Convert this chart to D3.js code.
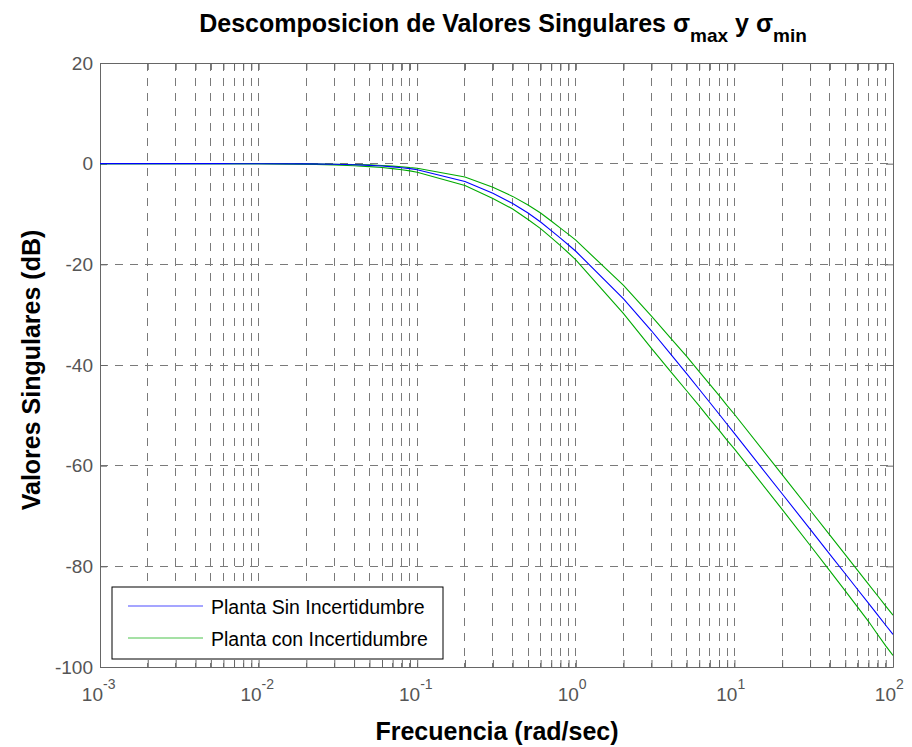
<!DOCTYPE html>
<html>
<head>
<meta charset="utf-8">
<script src="https://cdn.jsdelivr.net/npm/d3@7"></script>
<style>
  html, body { margin: 0; padding: 0; background: #fff; }
  svg { display: block; }
  text { font-family: "Liberation Sans", Arial, sans-serif; }
</style>
</head>
<body>
<svg id="chart" width="912" height="747"></svg>
<script>
// ---------------- data ----------------
const freq = [
  0.001, 0.002, 0.003, 0.004, 0.005, 0.006, 0.007, 0.008, 0.009,
  0.01, 0.02, 0.03, 0.04, 0.05, 0.06, 0.07, 0.08, 0.09,
  0.1, 0.2, 0.3, 0.4, 0.5, 0.6, 0.7, 0.8, 0.9,
  1, 2, 3, 4, 5, 6, 7, 8, 9,
  10, 20, 30, 40, 50, 60, 70, 80, 90,
  100
];
// Planta Sin Incertidumbre (dB)
const nominal = [
  0, 0, 0, 0, 0, 0, -0.01, -0.01, -0.01,
  -0.01, -0.05, -0.12, -0.21, -0.33, -0.47, -0.63, -0.80, -0.99,
  -1.20, -3.55, -5.9, -7.9, -9.8, -11.6, -13.3, -14.8, -16.15,
  -17.40, -26.88, -33.2, -37.97, -41.72, -44.82, -47.45, -49.73, -51.77,
  -53.58, -65.58, -72.61, -77.61, -81.48, -84.65, -87.32, -89.64, -91.70,
  -93.52
];
// Planta con Incertidumbre: upper bound (dB)
const uncertainUpper = [
  0, 0, 0, 0, 0, 0, -0.01, -0.01, -0.01,
  -0.01, -0.05, -0.12, -0.16, -0.23, -0.37, -0.48, -0.60, -0.79,
  -0.90, -2.65, -4.7, -6.5, -8.2, -9.8, -11.4, -12.8, -14.05,
  -15.2, -24.2, -30.3, -34.8, -38.3, -41.3, -43.85, -46.05, -48.07,
  -49.78, -61.78, -68.81, -73.81, -77.68, -80.85, -83.52, -85.84, -87.9,
  -89.72
];
// Planta con Incertidumbre: lower bound (dB)
const uncertainLower = [
  0, 0, 0, 0, 0, 0, -0.01, -0.01, -0.01,
  -0.02, -0.10, -0.27, -0.41, -0.58, -0.77, -0.98, -1.2, -1.44,
  -1.7, -4.35, -6.9, -9.0, -11.1, -12.9, -14.7, -16.3, -17.75,
  -19.1, -29.8, -36.7, -41.47, -45.12, -48.12, -50.75, -52.93, -54.97,
  -56.68, -68.68, -75.81, -80.91, -84.88, -88.15, -90.92, -93.54, -95.8,
  -97.72
];
const yTickValues = [20, 0, -20, -40, -60, -80, -100];
const xDecades = [-3, -2, -1, 0, 1, 2];
const legendLabels = ["Planta Sin Incertidumbre", "Planta con Incertidumbre"];
const titleMain = "Descomposicion de Valores Singulares ";
const xLabel = "Frecuencia (rad/sec)";
const yLabel = "Valores Singulares (dB)";

// ---------------- layout ----------------
const L = 100, R = 893, T = 63, B = 667;
const blue = "#0000ff", green = "#00aa00";
const axisGray = "#666666";

const svg = d3.select("#chart");
const x = d3.scaleLog().domain([1e-3, 1e2]).range([L, R]);
const y = d3.scaleLinear().domain([-100, 20]).range([B, T]);

// all log ticks (1..9 x 10^k)
const logTicks = [];
for (let k = -3; k <= 1; k++) for (let m = 1; m <= 9; m++) logTicks.push(m * Math.pow(10, k));
logTicks.push(100);

// grid
const grid = svg.append("g");
grid.selectAll("line.v").data(logTicks.filter(d => d > 1e-3 && d < 1e2)).join("line")
  .attr("x1", d => x(d)).attr("x2", d => x(d)).attr("y1", T).attr("y2", B)
  .attr("stroke", "#7a7a7a").attr("stroke-width", 1).attr("stroke-dasharray", "8,7")
  .attr("shape-rendering", "crispEdges");
grid.selectAll("line.h").data(yTickValues.filter(d => d > -100 && d < 20)).join("line")
  .attr("x1", L).attr("x2", R).attr("y1", d => y(d)).attr("y2", d => y(d))
  .attr("stroke", "#7a7a7a").attr("stroke-width", 1).attr("stroke-dasharray", "8,7")
  .attr("shape-rendering", "crispEdges");

// axes (inward ticks)
function styleAxis(g) {
  g.selectAll("path").attr("stroke", axisGray);
  g.selectAll("line").attr("stroke", axisGray);
  g.selectAll("text").remove();
}
svg.append("g").attr("transform", `translate(0,${B})`)
  .call(d3.axisBottom(x).tickValues(logTicks).tickSize(-7).tickSizeOuter(0).tickFormat(""))
  .call(styleAxis);
svg.append("g").attr("transform", `translate(0,${T})`)
  .call(d3.axisTop(x).tickValues(logTicks).tickSize(-7).tickSizeOuter(0).tickFormat(""))
  .call(styleAxis);
const yAxisL = svg.append("g").attr("transform", `translate(${L},0)`)
  .call(d3.axisLeft(y).tickValues(yTickValues).tickSize(-7).tickSizeOuter(0).tickFormat(d => String(d)));
yAxisL.selectAll("path").attr("stroke", axisGray);
yAxisL.selectAll("line").attr("stroke", axisGray);
yAxisL.selectAll("text").attr("x", -7).attr("fill", "#555")
  .style("font-size", "19px").style("font-family", "Liberation Sans, Arial, sans-serif");
svg.append("g").attr("transform", `translate(${R},0)`)
  .call(d3.axisRight(y).tickValues(yTickValues).tickSize(-7).tickSizeOuter(0).tickFormat(""))
  .call(styleAxis);

// x tick labels 10^k
const xl = svg.append("g").attr("fill", "#555");
xDecades.forEach(k => {
  const px = x(Math.pow(10, k));
  xl.append("text").attr("x", px + 3).attr("y", 701).attr("text-anchor", "end")
    .style("font-size", "19px").text("10");
  xl.append("text").attr("x", px + 3).attr("y", 689).attr("text-anchor", "start")
    .style("font-size", "14px").text(String(k));
});

// curves
const line = d3.line().x((d, i) => x(freq[i])).y(d => y(d));
svg.append("clipPath").attr("id", "clip").append("rect")
  .attr("x", L).attr("y", T).attr("width", R - L).attr("height", B - T);
const curves = svg.append("g").attr("clip-path", "url(#clip)");
curves.append("path").datum(uncertainUpper).attr("d", line).attr("fill", "none").attr("stroke", green).attr("stroke-width", 1.1);
curves.append("path").datum(uncertainLower).attr("d", line).attr("fill", "none").attr("stroke", green).attr("stroke-width", 1.1);
curves.append("path").datum(nominal).attr("d", line).attr("fill", "none").attr("stroke", blue).attr("stroke-width", 1.1);

// legend
const lg = svg.append("g");
lg.append("rect").attr("x", 112).attr("y", 587).attr("width", 331).attr("height", 72)
  .attr("fill", "#fff").attr("stroke", "#000").attr("stroke-width", 1);
[[blue, 606, 614], [green, 638, 646]].forEach((s, i) => {
  lg.append("line").attr("x1", 128).attr("x2", 203).attr("y1", s[1]).attr("y2", s[1])
    .attr("stroke", s[0]).attr("stroke-width", 1).attr("opacity", 0.7);
  lg.append("text").attr("x", 211).attr("y", s[2]).style("font-size", "19.5px")
    .attr("fill", "#000").text(legendLabels[i]);
});

// title
const title = svg.append("text").attr("x", 503).attr("y", 32).attr("text-anchor", "middle")
  .style("font-size", "25px").style("font-weight", "bold").attr("fill", "#000");
title.append("tspan").text(titleMain + "σ");
title.append("tspan").attr("dy", 10).style("font-size", "19px").text("max");
title.append("tspan").attr("dy", -10).text(" y σ");
title.append("tspan").attr("dy", 10).style("font-size", "19px").text("min");

// axis labels
svg.append("text").attr("x", 497).attr("y", 740).attr("text-anchor", "middle")
  .style("font-size", "25px").style("font-weight", "bold").text(xLabel);
svg.append("text").attr("transform", `translate(40,370) rotate(-90)`)
  .attr("text-anchor", "middle").style("font-size", "25px").style("font-weight", "bold").text(yLabel);
</script>
</body>
</html>
